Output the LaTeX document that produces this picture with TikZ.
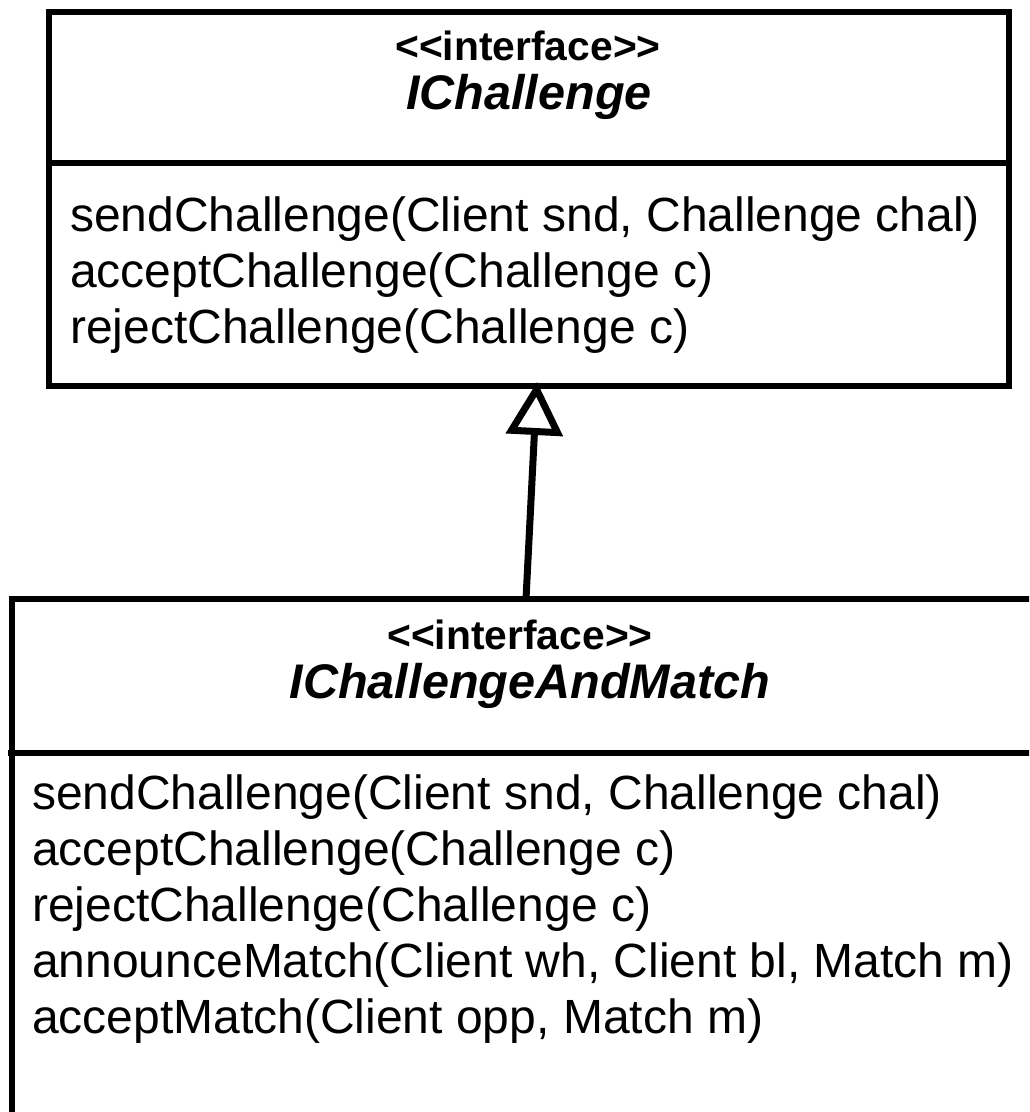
\documentclass[tikz,border=0pt]{standalone}
\usepackage{fontspec}
\setmainfont{Liberation Sans}
\usetikzlibrary{arrows.meta}
\newcommand{\stereotxt}[1]{<\kern0pt<#1>\kern0pt>}
\begin{document}
\begin{tikzpicture}[x=1pt,y=-1pt,
  classbox/.style={draw=black,line width=6pt,rectangle,inner sep=0pt},
  sepline/.style={draw=black,line width=6pt},
  meth/.style={anchor=base west,inner sep=0pt,font=\fontsize{48}{56}\selectfont},
  stereo/.style={anchor=base,inner sep=0pt,font=\fontsize{40.8}{48}\selectfont\bfseries},
  cname/.style={anchor=base,inner sep=0pt,font=\fontsize{48.6}{56}\selectfont\bfseries\itshape},
  gen/.style={draw=black,line width=7pt,-{Triangle[open,length=53pt,width=56pt]}}]
\useasboundingbox (0,0) rectangle (1029,1112);
\fill[white] (0,0) rectangle (1029,1112);
\begin{scope}
\clip (0,0) rectangle (1029,1112);
% top class
\node[classbox,minimum width=960pt,minimum height=374pt] (top) at (529,199) {};
\draw[sepline] (46,163) -- (1012,163);
\node[stereo] (topst) at (528,60) {\stereotxt{interface}};
\node[cname] (topnm) at (529,109) {IChallenge};
\node[meth] (t1) at (70,231) {sendChallenge(Client snd, Challenge chal)};
\node[meth] (t2) at (70,287) {acceptChallenge(Challenge c)};
\node[meth] (t3) at (70,343) {rejectChallenge(Challenge c)};
% bottom class
\node[classbox,minimum width=1040pt,minimum height=540pt] (bot) at (532,869) {};
\draw[sepline] (8,753) -- (1040,753);
\node[stereo] (botst) at (520,649) {\stereotxt{interface}};
\node[cname] (botnm) at (530,698) {IChallengeAndMatch};
\node[meth] (b1) at (32,809) {sendChallenge(Client snd, Challenge chal)};
\node[meth] (b2) at (32,865) {acceptChallenge(Challenge c)};
\node[meth] (b3) at (32,921) {rejectChallenge(Challenge c)};
\node[meth] (b4) at (32,977) {announceMatch(Client wh, Client bl, Match m)};
\node[meth] (b5) at (32,1033) {acceptMatch(Client opp, Match m)};
\end{scope}
% generalization
\coordinate (gfoot) at (526,599);
\coordinate (gtip) at (537,382);
\draw[gen] (gfoot) -- (gtip);
\end{tikzpicture}
\end{document}
